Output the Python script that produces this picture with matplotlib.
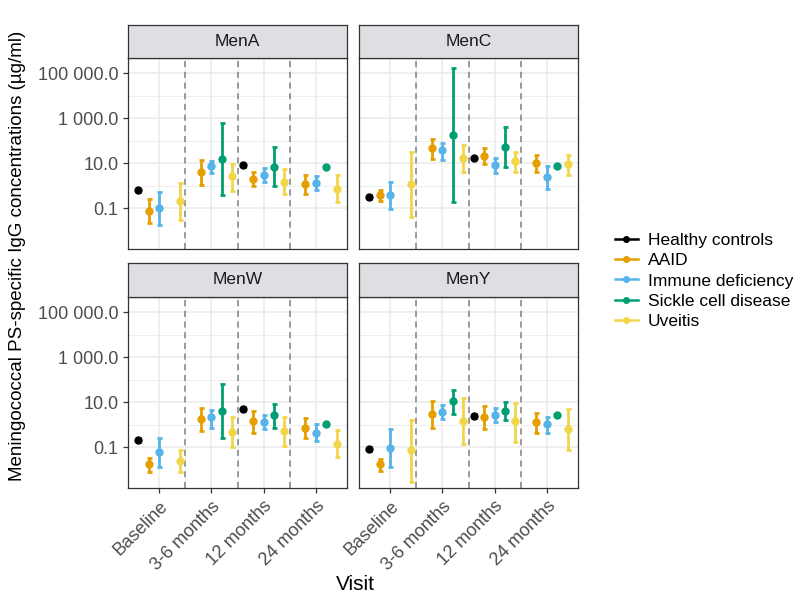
import matplotlib
matplotlib.use('Agg')
import matplotlib.pyplot as plt
from matplotlib.lines import Line2D
from matplotlib.ticker import FixedLocator, FuncFormatter, NullFormatter
import numpy as np

plt.rcParams['font.family'] = ['Liberation Sans', 'DejaVu Sans']

antigens = ['MenA', 'MenC', 'MenW', 'MenY']
visits = ['Baseline', '3-6 months', '12 months', '24 months']
groups = ['Healthy controls', 'AAID', 'Immune deficiency', 'Sickle cell disease', 'Uveitis']
colors = ['#000000', '#E69F00', '#56B4E9', '#009E73', '#F2D64A']

nan = np.nan
# geometric mean concentration and 95% CI (ug/ml); rows = antigen, cols = visit
healthy_gmc = [[0.63, nan, 8.3, nan], [0.32, nan, 17.4, nan], [0.22, nan, 5.0, nan], [0.085, nan, 2.5, nan]]
healthy_lo = [[0.52, nan, 7.0, nan], [0.27, nan, 15.0, nan], [0.18, nan, 4.2, nan], [0.072, nan, 2.1, nan]]
healthy_hi = [[0.76, nan, 9.8, nan], [0.38, nan, 20.0, nan], [0.27, nan, 6.0, nan], [0.10, nan, 3.0, nan]]

aaid_gmc = [[0.076, 4.1, 2.0, 1.23], [0.39, 47, 21, 10.5], [0.018, 1.78, 1.51, 0.74], [0.018, 2.95, 2.14, 1.29]]
aaid_lo = [[0.023, 1.07, 0.98, 0.46], [0.21, 16.2, 9.5, 4.1], [0.0083, 0.52, 0.42, 0.25], [0.0089, 0.76, 0.65, 0.42]]
aaid_hi = [[0.25, 13.8, 4.2, 3.2], [0.69, 126, 48, 24.5], [0.035, 5.4, 4.2, 2.04], [0.032, 11.5, 6.8, 3.5]]

immune_gmc = [[0.10, 7.4, 2.95, 1.29], [0.38, 38, 8.3, 2.45], [0.060, 2.14, 1.29, 0.46], [0.098, 3.8, 2.7, 1.05]]
immune_lo = [[0.018, 3.8, 1.51, 0.63], [0.091, 14.8, 3.8, 0.74], [0.0138, 0.76, 0.65, 0.195], [0.0138, 1.78, 1.38, 0.42]]
immune_hi = [[0.55, 13.2, 6.3, 2.7], [1.48, 81, 17.4, 7.4], [0.27, 4.8, 2.7, 1.05], [0.65, 7.9, 5.4, 2.3]]

sickle_gmc = [[nan, 15.8, 6.9, 6.9], [nan, 186, 54, 7.4], [nan, 4.2, 2.7, 1.05], [nan, 11.2, 4.2, 2.7]]
sickle_lo = [[nan, 0.39, 0.98, 6.6], [nan, 0.195, 6.9, 7.0], [nan, 0.27, 0.76, 0.99], [nan, 3.2, 1.62, 2.55]]
sickle_hi = [[nan, 617, 51, 7.3], [nan, 178000, 400, 7.8], [nan, 63, 8.3, 1.12], [nan, 35, 10.5, 2.85]]

uveitis_gmc = [[0.22, 2.7, 1.51, 0.76], [1.23, 17.4, 12.3, 9.5], [0.025, 0.49, 0.55, 0.141], [0.076, 1.51, 1.51, 0.63]]
uveitis_lo = [[0.032, 0.59, 0.46, 0.19], [0.043, 4.1, 4.1, 3.0], [0.0078, 0.107, 0.115, 0.039], [0.0028, 0.141, 0.178, 0.076]]
uveitis_hi = [[1.38, 9.8, 5.4, 3.2], [32, 68, 32, 24.5], [0.076, 2.14, 2.3, 0.59], [1.74, 16.2, 9.8, 5.0]]

gmc = [healthy_gmc, aaid_gmc, immune_gmc, sickle_gmc, uveitis_gmc]
lo = [healthy_lo, aaid_lo, immune_lo, sickle_lo, uveitis_lo]
hi = [healthy_hi, aaid_hi, immune_hi, sickle_hi, uveitis_hi]

yticks = [0.1, 10, 1000, 100000]
W, H = 800, 597


def px_rect(left, top, width, height):
    return [left / W, 1 - (top + height) / H, width / W, height / H]


def fmt(v, pos):
    s = f'{v:,.1f}'
    return s.replace(',', ' ')


fig = plt.figure(figsize=(W / 100, H / 100), dpi=100)

lefts = [128, 359]
tops = [58, 297]
strip_tops = [25, 263]

for k, ag in enumerate(antigens):
    r, c = divmod(k, 2)
    ax = fig.add_axes(px_rect(lefts[c], tops[r], 219, 191))
    ax.set_yscale('log')
    ax.set_ylim(10 ** -2.8, 10 ** 5.68)
    ax.set_xlim(0.4, 4.6)
    ax.yaxis.set_major_locator(FixedLocator(yticks))
    ax.yaxis.set_minor_locator(FixedLocator([0.001, 1, 100, 10000]))
    ax.yaxis.set_major_formatter(FuncFormatter(fmt))
    ax.yaxis.set_minor_formatter(NullFormatter())
    ax.set_xticks(range(1, 5))
    ax.set_xticks([1.5, 2.5, 3.5], minor=True)
    ax.grid(True, which='major', color='#EBEBEB', lw=1.1, zorder=0)
    ax.grid(True, which='minor', color='#EBEBEB', lw=0.6, zorder=0)
    ax.set_axisbelow(True)
    for sp in ax.spines.values():
        sp.set_color('#333333')
        sp.set_linewidth(0.9)
    ax.tick_params(which='both', length=0)
    ax.tick_params(which='major', length=3.5, color='#333333', width=0.9,
                   labelsize=13, labelcolor='#4D4D4D')
    if c == 1:
        ax.tick_params(axis='y', which='major', length=0, labelleft=False)
    if r == 1:
        ax.set_xticklabels(visits, rotation=45, ha='right', rotation_mode='anchor')
    else:
        ax.tick_params(axis='x', which='major', length=0, labelbottom=False)

    for xv in [1.5, 2.5, 3.5]:
        ax.axvline(xv, color='#808080', lw=1.1, ls=(0, (4, 3)), zorder=1)

    for g in range(len(groups)):
        off = (g - 2) * 0.2
        x = np.arange(1, 5) + off
        m = np.array(gmc[g][k], dtype=float)
        l = np.array(lo[g][k], dtype=float)
        h = np.array(hi[g][k], dtype=float)
        ax.errorbar(x, m, yerr=[m - l, h - m], fmt='o', color=colors[g], ms=5,
                    elinewidth=2, capsize=1.8, capthick=2, zorder=3)

    sax = fig.add_axes(px_rect(lefts[c], strip_tops[r], 219, tops[r] - strip_tops[r]))
    sax.set_facecolor('#DEDFE3')
    sax.set_xticks([])
    sax.set_yticks([])
    for sp in sax.spines.values():
        sp.set_color('#333333')
        sp.set_linewidth(0.9)
    sax.text(0.5, 0.5, ag, ha='center', va='center', fontsize=12.5, color='#1A1A1A',
             transform=sax.transAxes)

fig.text(18 / W, 1 - 256 / H, 'Meningococcal PS-specific IgG concentrations (µg/ml)',
         rotation=90, ha='center', va='center', fontsize=13.5)
fig.text(355 / W, 1 - 585 / H, 'Visit', ha='center', va='center', fontsize=15)

handles = [Line2D([0], [0], color=col, marker='o', ms=4, lw=1.8) for col in colors]
fig.legend(handles, groups, loc='center left', bbox_to_anchor=(608 / W, 1 - 281 / H),
           frameon=False, fontsize=12.5, handlelength=1.3, handletextpad=0.6,
           labelspacing=0.3, borderaxespad=0)

fig.savefig('out.png', dpi=100)
